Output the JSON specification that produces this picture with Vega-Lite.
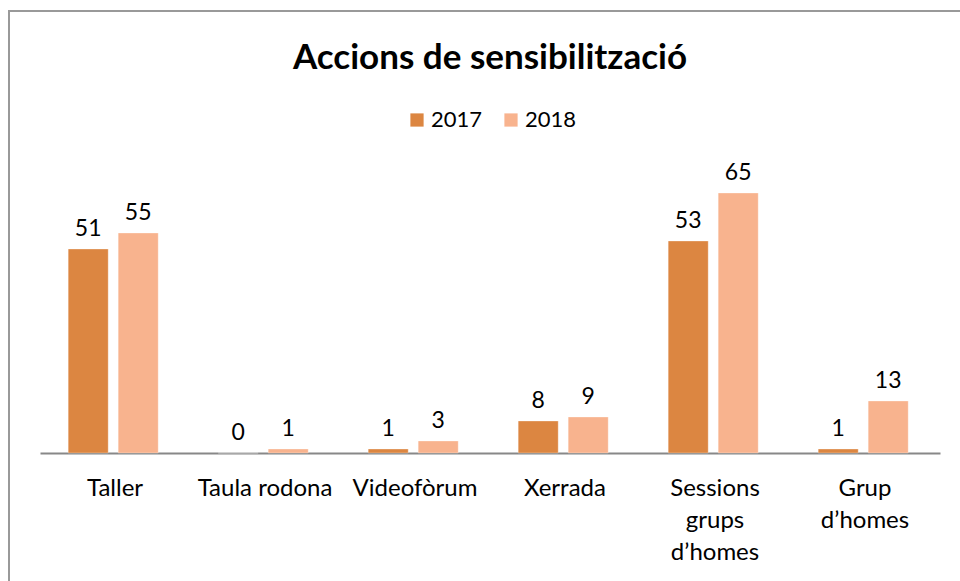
{
  "$schema": "https://vega.github.io/schema/vega-lite/v6.json",
  "autosize": "none",
  "padding": {"left": 9, "top": 11, "right": 0, "bottom": 0},
  "width": 962,
  "height": 600,
  "background": "white",
  "config": {
    "font": "Lato",
    "view": {"stroke": "#999999", "strokeWidth": 2}
  },
  "title": {
    "text": "Accions de sensibilització",
    "font": "Lato",
    "fontSize": 35,
    "fontWeight": "bold",
    "color": "#000000",
    "anchor": "middle",
    "frame": "group",
    "offset": -65
  },
  "data": {
    "values": [
      {"accio": "Taller", "any": "2017", "valor": 51},
      {"accio": "Taller", "any": "2018", "valor": 55},
      {"accio": "Taula rodona", "any": "2017", "valor": 0},
      {"accio": "Taula rodona", "any": "2018", "valor": 1},
      {"accio": "Videofòrum", "any": "2017", "valor": 1},
      {"accio": "Videofòrum", "any": "2018", "valor": 3},
      {"accio": "Xerrada", "any": "2017", "valor": 8},
      {"accio": "Xerrada", "any": "2018", "valor": 9},
      {"accio": "Sessions grups d’homes", "any": "2017", "valor": 53},
      {"accio": "Sessions grups d’homes", "any": "2018", "valor": 65},
      {"accio": "Grup d’homes", "any": "2017", "valor": 1},
      {"accio": "Grup d’homes", "any": "2018", "valor": 13}
    ]
  },
  "encoding": {
    "x": {
      "field": "accio",
      "type": "nominal",
      "sort": null,
      "scale": {"range": [31, 931], "paddingInner": 0, "paddingOuter": 0},
      "axis": {
        "title": null,
        "offset": -158,
        "domainColor": "#888888",
        "domainWidth": 2,
        "ticks": false,
        "labelAngle": 0,
        "labelFont": "Lato",
        "labelFontSize": 24,
        "labelColor": "#000000",
        "labelPadding": 23,
        "labelLineHeight": 32,
        "labelBaseline": "top",
        "labelExpr": "datum.value == 'Sessions grups d’homes' ? ['Sessions', 'grups', 'd’homes'] : datum.value == 'Grup d’homes' ? ['Grup', 'd’homes'] : datum.value"
      }
    },
    "xOffset": {
      "field": "any",
      "type": "nominal",
      "scale": {"paddingInner": 0.2, "paddingOuter": 0.6, "align": 0.47}
    },
    "y": {
      "field": "valor",
      "type": "quantitative",
      "scale": {"domain": [-39.5, 110.5], "nice": false, "zero": false},
      "axis": null
    }
  },
  "layer": [
    {
      "mark": {"type": "bar", "stroke": "white", "strokeWidth": 0.5, "strokeOpacity": 0.6},
      "encoding": {
        "y2": {"datum": 0},
        "color": {
          "field": "any",
          "type": "nominal",
          "scale": {"domain": ["2017", "2018"], "range": ["#DC8641", "#F8B38E"]},
          "legend": {
            "title": null,
            "orient": "none",
            "direction": "horizontal",
            "legendX": 397,
            "legendY": 98,
            "symbolType": "square",
            "symbolSize": 175,
            "symbolStrokeWidth": 0,
            "labelFont": "Lato",
            "labelFontSize": 22,
            "labelColor": "#000000",
            "labelOffset": 3,
            "columnPadding": 17
          }
        }
      }
    },
    {
      "mark": {"type": "text", "baseline": "bottom", "dy": -8, "font": "Lato", "fontSize": 23, "color": "#000000"},
      "encoding": {
        "text": {"field": "valor", "type": "quantitative"}
      }
    }
  ]
}
